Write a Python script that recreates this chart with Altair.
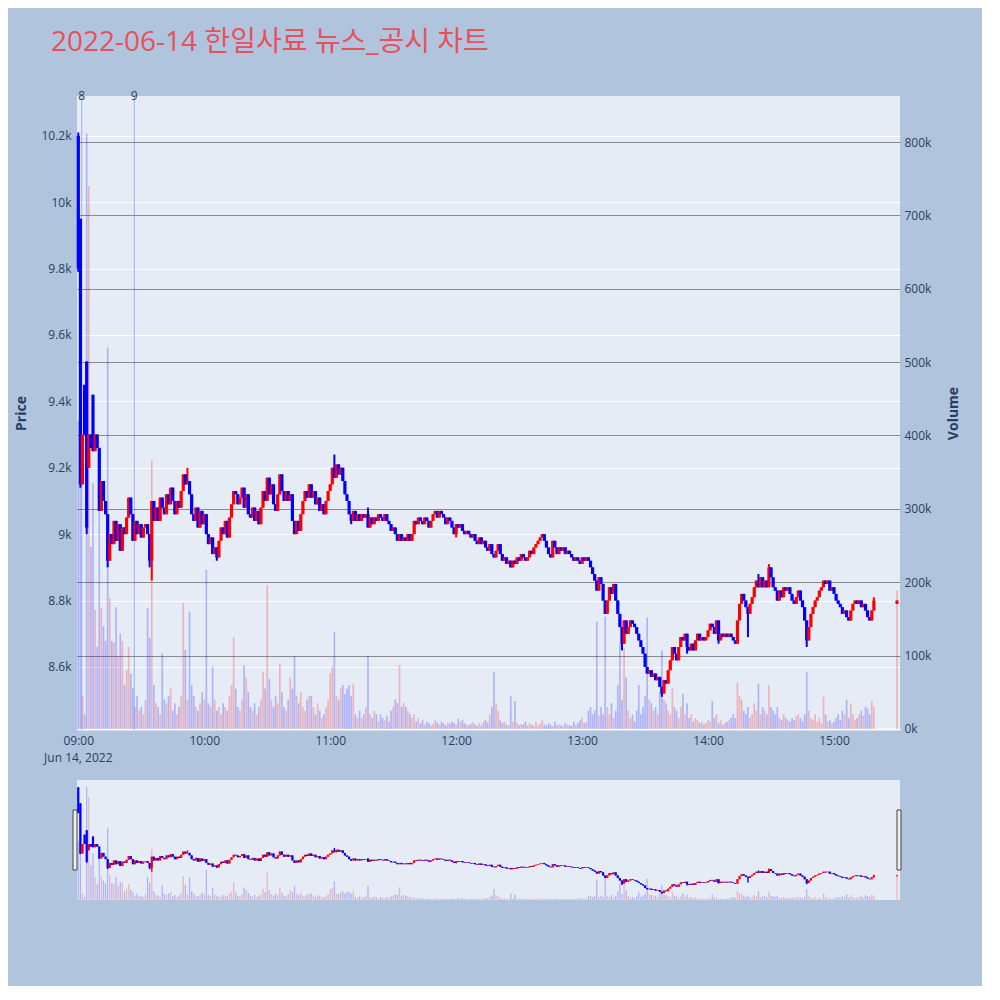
import altair as alt
import pandas as pd

TITLE = "2022-06-14 한일사료 뉴스_공시 차트"
DATE_LABEL = "Jun 14, 2022"

# 1-minute closes 09:00 .. 15:19, then the 15:30 closing auction
close_px = [
    9800, 9150, 9300, 9300, 9020, 9300, 9260, 9250, 9300, 9260,
    9070, 9160, 9100, 9060, 8920, 9000, 8970, 9040, 8980, 9030,
    8950, 9020, 9000, 9050, 9110, 9060, 8980, 9040, 9000, 9030,
    8990, 9020, 9030, 9000, 8920, 9100, 9040, 9080, 9040, 9110,
    9080, 9060, 9120, 9090, 9140, 9100, 9060, 9100, 9080, 9130,
    9180, 9150, 9160, 9120, 9060, 9040, 9080, 9020, 9070, 9030,
    9060, 9000, 8970, 8990, 8940, 8960, 8930, 8980, 9020, 9000,
    9040, 8990, 9050, 9090, 9130, 9120, 9090, 9110, 9140, 9080,
    9120, 9060, 9050, 9080, 9040, 9070, 9030, 9080, 9130, 9100,
    9170, 9120, 9150, 9090, 9070, 9120, 9180, 9130, 9100, 9130,
    9100, 9120, 9040, 9000, 9040, 9010, 9060, 9100, 9130, 9110,
    9150, 9110, 9130, 9090, 9110, 9070, 9090, 9060, 9100, 9130,
    9150, 9200, 9170, 9210, 9180, 9200, 9160, 9120, 9100, 9060,
    9040, 9070, 9040, 9060, 9040, 9060, 9050, 9060, 9020, 9050,
    9030, 9050, 9040, 9060, 9050, 9040, 9060, 9040, 9030, 9010,
    9020, 9000, 8980, 9000, 8980, 8990, 8980, 9000, 8980, 9000,
    9040, 9030, 9050, 9040, 9030, 9050, 9040, 9020, 9040, 9060,
    9070, 9050, 9070, 9060, 9050, 9030, 9050, 9040, 9020, 9000,
    9030, 9020, 9030, 9010, 9000, 9010, 9000, 8990, 9000, 8980,
    8970, 8990, 8970, 8980, 8960, 8950, 8970, 8940, 8930, 8950,
    8970, 8940, 8920, 8930, 8910, 8920, 8900, 8920, 8910, 8930,
    8920, 8940, 8930, 8920, 8930, 8950, 8940, 8960, 8970, 8980,
    8990, 9000, 8980, 8960, 8940, 8930, 8980, 8960, 8940, 8960,
    8950, 8960, 8940, 8950, 8940, 8930, 8920, 8930, 8920, 8910,
    8930, 8920, 8930, 8920, 8900, 8880, 8860, 8830, 8870, 8850,
    8800, 8760, 8800, 8840, 8820, 8850, 8800, 8760, 8720, 8670,
    8740, 8700, 8720, 8740, 8730, 8720, 8700, 8680, 8660, 8640,
    8600, 8580, 8590, 8570, 8580, 8560, 8570, 8540, 8520, 8560,
    8550, 8590, 8620, 8660, 8640, 8620, 8660, 8690, 8680, 8700,
    8660, 8650, 8670, 8650, 8680, 8700, 8680, 8690, 8680, 8690,
    8710, 8730, 8720, 8700, 8740, 8680, 8700, 8690, 8700, 8690,
    8700, 8690, 8680, 8670, 8740, 8790, 8820, 8800, 8780, 8760,
    8790, 8810, 8840, 8860, 8840, 8870, 8840, 8860, 8840, 8900,
    8870, 8840, 8830, 8800, 8830, 8810, 8840, 8830, 8840, 8820,
    8800, 8790, 8810, 8830, 8800, 8780, 8740, 8680, 8720, 8760,
    8780, 8800, 8810, 8830, 8840, 8860, 8850, 8860, 8830, 8840,
    8820, 8800, 8790, 8780, 8760, 8770, 8750, 8740, 8770, 8790,
    8800, 8790, 8800, 8780, 8790, 8770, 8750, 8740, 8770, 8800,
    8800,
]
open_first = [10200, 9950, 9150, 9450, 9520, 9200, 9300, 9420, 9250, 9300]
open_last = 8790
high_ext = {0: 10210, 4: 9520, 7: 9420, 52: 9200, 122: 9240, 138: 9080,
            324: 8880, 329: 8910, 379: 8810}
low_ext = {0: 9790, 1: 9140, 4: 9000, 14: 8900, 34: 8900, 35: 8860, 66: 8920,
           130: 9030, 180: 8990, 259: 8650, 278: 8510, 290: 8640, 305: 8670,
           319: 8690, 347: 8660}

volume = [
    420000, 390000, 45000, 20000, 812000, 740000, 248000, 335000, 162000, 112000,
    330000, 165000, 140000, 120000, 520000, 178000, 120000, 118000, 166000, 100000,
    130000, 120000, 60000, 80000, 112000, 75000, 55000, 30000, 45000, 25000,
    30000, 20000, 40000, 165000, 124000, 366000, 60000, 35000, 30000, 20000,
    103000, 40000, 35000, 45000, 55000, 25000, 35000, 20000, 30000, 45000,
    172000, 108000, 40000, 160000, 60000, 45000, 30000, 25000, 35000, 50000,
    40000, 217000, 35000, 30000, 85000, 40000, 25000, 30000, 20000, 35000,
    30000, 25000, 45000, 60000, 125000, 55000, 30000, 25000, 40000, 87000,
    70000, 50000, 30000, 25000, 35000, 20000, 30000, 40000, 78000, 55000,
    196000, 68000, 40000, 30000, 45000, 35000, 89000, 50000, 30000, 25000,
    40000, 70000, 55000, 100000, 45000, 35000, 50000, 30000, 25000, 40000,
    45000, 45000, 30000, 20000, 35000, 25000, 15000, 20000, 30000, 40000,
    76000, 85000, 132000, 45000, 40000, 55000, 60000, 48000, 55000, 60000,
    45000, 62000, 20000, 15000, 25000, 15000, 20000, 30000, 100000, 20000,
    15000, 25000, 20000, 10000, 20000, 15000, 12000, 18000, 10000, 25000,
    30000, 40000, 35000, 87000, 30000, 35000, 30000, 25000, 20000, 15000,
    20000, 10000, 15000, 8000, 12000, 6000, 10000, 8000, 5000, 7000,
    12000, 9000, 6000, 10000, 8000, 5000, 9000, 7000, 10000, 8000,
    6000, 14000, 10000, 12000, 8000, 6000, 5000, 7000, 9000, 6000,
    4000, 8000, 5000, 10000, 12000, 9000, 20000, 30000, 78000, 35000,
    25000, 12000, 8000, 10000, 6000, 5000, 45000, 10000, 38000, 8000,
    5000, 7000, 6000, 10000, 5000, 8000, 6000, 4000, 10000, 5000,
    7000, 12000, 6000, 5000, 8000, 6000, 4000, 10000, 5000, 6000,
    5000, 4000, 8000, 6000, 5000, 4000, 10000, 6000, 8000, 12000,
    15000, 8000, 10000, 25000, 30000, 20000, 25000, 146000, 18000, 30000,
    20000, 153000, 30000, 20000, 35000, 15000, 25000, 60000, 117000, 40000,
    110000, 70000, 25000, 15000, 20000, 10000, 25000, 60000, 20000, 30000,
    45000, 152000, 40000, 35000, 25000, 30000, 20000, 50000, 107000, 40000,
    35000, 25000, 20000, 55000, 30000, 25000, 15000, 30000, 48000, 20000,
    35000, 15000, 20000, 10000, 15000, 12000, 8000, 10000, 6000, 8000,
    12000, 10000, 38000, 15000, 20000, 8000, 12000, 6000, 8000, 10000,
    12000, 15000, 20000, 15000, 63000, 45000, 40000, 25000, 20000, 30000,
    15000, 20000, 35000, 25000, 62000, 20000, 30000, 25000, 20000, 60000,
    30000, 25000, 20000, 30000, 15000, 12000, 20000, 15000, 12000, 10000,
    15000, 12000, 18000, 20000, 15000, 10000, 20000, 78000, 25000, 15000,
    12000, 20000, 10000, 15000, 8000, 44000, 20000, 10000, 12000, 8000,
    10000, 15000, 20000, 12000, 25000, 20000, 40000, 15000, 35000, 20000,
    12000, 15000, 20000, 25000, 18000, 30000, 28000, 20000, 38000, 30000,
    189000,
]

news_times = ["2022-06-14T09:01:40", "2022-06-14T09:26:40"]
news_labels = ["8", "9"]
hour_ticks = [9, 10, 11, 12, 13, 14, 15]
price_ticks = [8600, 8800, 9000, 9200, 9400, 9600, 9800, 10000, 10200]
volume_ticks = [0, 100000, 200000, 300000, 400000, 500000, 600000, 700000, 800000]

# ---- table ----
n = len(close_px)
start = pd.Timestamp("2022-06-14 09:00")
times = [start + pd.Timedelta(minutes=i) for i in range(n - 1)] + [pd.Timestamp("2022-06-14 15:30")]
rows = []
for i in range(n):
    if i < len(open_first):
        o = open_first[i]
    elif i == n - 1:
        o = open_last
    else:
        o = close_px[i - 1]
    c = close_px[i]
    h = max(o, c, high_ext.get(i, 0))
    l = min(o, c, low_ext.get(i, 10 ** 9))
    rows.append({
        "t": times[i].strftime("%Y-%m-%dT%H:%M:%S"),
        "o": o, "c": c, "h": h, "l": l, "v": volume[i],
        "dir": "up" if c > o else "down",
    })
df = pd.DataFrame(rows)
news_df = pd.DataFrame({"t": news_times, "label": news_labels})
date_df = pd.DataFrame({"t": ["2022-06-14T09:00:00"], "label": [DATE_LABEL]})
one_df = pd.DataFrame({"k": [0]})

# ---- styling ----
W, H, SH = 823, 634, 120
FONT = "Open Sans"
TXT = "#2a3f5f"

def dt(h, m=0, s=0):
    return alt.DateTime(year=2022, month=6, date=14, hours=h, minutes=m, seconds=s)

xscale = alt.Scale(domain=[dt(8, 59, 23), dt(15, 31, 26)], padding=0)
pscale = alt.Scale(domain=[8410, 10320], nice=False, zero=False, padding=0)
vscale = alt.Scale(domain=[-1400, 862700], nice=False, zero=False, padding=0)
cscale = alt.Scale(domain=["up", "down"], range=["#FF0000", "#0000FF"])
color = alt.Color("dir:N", scale=cscale, legend=None)

xaxis = alt.Axis(values=[dt(h) for h in hour_ticks], format="%H:%M", ticks=False,
                 domain=False, grid=False, labelPadding=5, labelFont=FONT,
                 labelFontSize=12, labelColor=TXT, title=None)
paxis = alt.Axis(orient="left", values=price_ticks,
                 labelExpr="format(datum.value / 1000, '~g') + 'k'",
                 ticks=False, domain=False, grid=True, gridColor="#ffffff", gridWidth=1,
                 labelPadding=6, labelFont=FONT, labelFontSize=12, labelColor=TXT,
                 title="Price", titleFont=FONT, titleFontSize=14, titleFontWeight="bold",
                 titleColor=TXT, titleAngle=270, titleX=-56, titleY=H / 2,
                 titleAlign="center", titleBaseline="middle")
vaxis = alt.Axis(orient="right", values=volume_ticks, format="~s",
                 ticks=False, domain=False, grid=True,
                 gridColor={"condition": {"test": "datum.value === 0", "value": "#ffffff"}, "value": "#8a8a8a"},
                 gridWidth={"condition": {"test": "datum.value === 0", "value": 2}, "value": 1},
                 labelPadding=4, labelFont=FONT, labelFontSize=12, labelColor=TXT,
                 title="Volume", titleFont=FONT, titleFontSize=14, titleFontWeight="bold",
                 titleColor=TXT, titleAngle=270, titleX=53, titleY=H / 2,
                 titleAlign="center", titleBaseline="middle")

xenc = alt.X("t:T", scale=xscale, axis=xaxis, title=None)

# ---- main panel ----
vol_layer = alt.Chart(df).mark_bar(size=1.7, opacity=0.24).encode(
    x=xenc, y=alt.Y("v:Q", scale=vscale, axis=vaxis), color=color)
wick = alt.Chart(df).mark_rule(strokeWidth=2).encode(
    x=xenc, y=alt.Y("l:Q", scale=pscale, axis=paxis), y2="h:Q", color=color)
body = alt.Chart(df).mark_bar(size=3.2).encode(
    x=xenc, y=alt.Y("o:Q", scale=pscale, axis=paxis), y2="c:Q", color=color)
price = alt.layer(wick, body)
news_rule = alt.Chart(news_df).mark_rule(color="royalblue", opacity=0.45, strokeWidth=1).encode(x=xenc)
news_text = alt.Chart(news_df).mark_text(fontSize=12, color=TXT, font=FONT, baseline="alphabetic").encode(
    x=xenc, y=alt.value(4), text="label:N")
date_text = alt.Chart(date_df).mark_text(fontSize=12, color=TXT, font=FONT, baseline="alphabetic").encode(
    x=xenc, y=alt.value(H + 32), text="label:N")

main = alt.layer(vol_layer, news_rule, price, news_text, date_text).resolve_scale(
    y="independent").properties(width=W, height=H)

# ---- range slider ----
xenc_s = alt.X("t:T", scale=xscale, axis=None)
s_vol = alt.Chart(df).mark_bar(size=1.3, opacity=0.24).encode(
    x=xenc_s, y=alt.Y("v:Q", scale=vscale, axis=None), color=color)
s_wick = alt.Chart(df).mark_rule(strokeWidth=1.4).encode(
    x=xenc_s, y=alt.Y("l:Q", scale=pscale, axis=None), y2="h:Q", color=color)
s_body = alt.Chart(df).mark_bar(size=2.2).encode(
    x=xenc_s, y=alt.Y("o:Q", scale=pscale, axis=None), y2="c:Q", color=color)
s_price = alt.layer(s_wick, s_body)
h_left = alt.Chart(one_df).mark_rect(fill="#eeeeee", stroke="#444444", strokeWidth=1).encode(
    x=alt.value(-4), x2=alt.value(0), y=alt.value(30), y2=alt.value(90))
h_right = alt.Chart(one_df).mark_rect(fill="#eeeeee", stroke="#444444", strokeWidth=1).encode(
    x=alt.value(W - 3), x2=alt.value(W + 1), y=alt.value(30), y2=alt.value(90))
slider = alt.layer(s_vol, s_price, h_left, h_right).resolve_scale(
    y="independent").properties(width=W, height=SH)

chart = alt.vconcat(main, slider, spacing=50, bounds="flush").resolve_scale(
    x="independent", y="independent"
).properties(
    title=alt.Title(TITLE, anchor="start", frame="bounds", fontSize=28,
                    font="Open Sans, Noto Sans CJK KR", fontWeight="normal",
                    color="#E8505B", offset=33, dx=37),
    background="#B0C4DE",
    padding={"left": 6, "top": 21, "right": 22, "bottom": 86},
).configure_view(fill="#E5ECF6", strokeWidth=0)

chart.save("out.html", embed_options={"renderer": "svg", "actions": False})
